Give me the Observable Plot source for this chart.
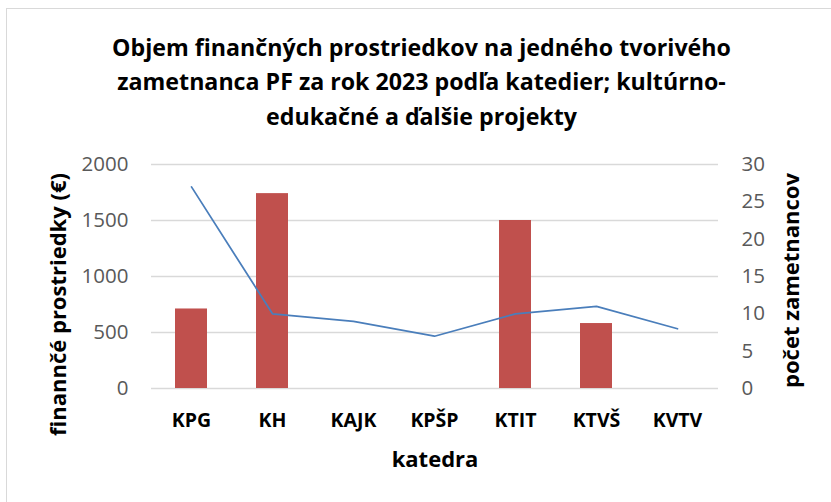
<!DOCTYPE html>
<html>
<head>
<meta charset="utf-8">
<script src="https://cdn.jsdelivr.net/npm/d3@7"></script>
<script src="https://cdn.jsdelivr.net/npm/@observablehq/plot@0.6"></script>
<style>
  html, body { margin: 0; padding: 0; background: #fff; }
  #wrap { position: relative; width: 831px; height: 502px; overflow: hidden; font-family: "Open Sans", Lato, sans-serif; }
  #border { position: absolute; left: 6px; top: 8px; width: 850px; height: 520px; border: 1.5px solid #d9d9d9; box-sizing: border-box; }
  #title { position: absolute; left: 6px; width: 831px; top: 29.5px; text-align: center; font-weight: bold; font-size: 23.2px; line-height: 34.5px; color: #000; }
  #chart { position: absolute; left: 0; top: 0; }
</style>
</head>
<body>
<div id="wrap">
  <div id="border"></div>
  <div id="chart"></div>
  <div id="title">Objem finančných prostriedkov na jedného tvorivého<br>zametnanca PF za rok 2023 podľa katedier; kultúrno-<br>edukačné a ďalšie projekty</div>
</div>
<script>
const categories = ["KPG", "KH", "KAJK", "KPŠP", "KTIT", "KTVŠ", "KVTV"];
const funds = [710, 1740, 0, 0, 1500, 580, 0];
const employees = [27, 10, 9, 7, 10, 11, 8];
const leftTicks = [0, 500, 1000, 1500, 2000];
const rightTicks = [0, 5, 10, 15, 20, 25, 30];
const leftLabel = "finannčé prostriedky (€)";
const rightLabel = "počet zametnancov";
const xLabel = "katedra";

const leftMax = 2000, rightMax = 30;
const k = leftMax / rightMax;

const barData = categories.map((c, i) => ({c, v: funds[i]})).filter(d => d.v > 0);
const lineData = categories.map((c, i) => ({c, v: employees[i] * k}));

const plot = Plot.plot({
  width: 831,
  height: 502,
  marginLeft: 151,
  marginRight: 113,
  marginTop: 164,
  marginBottom: 114,
  style: {fontFamily: "'Open Sans', Lato, sans-serif", background: "transparent"},
  x: {type: "band", domain: categories, paddingInner: 0.6, paddingOuter: 0.3},
  y: {domain: [0, leftMax]},
  marks: [
    Plot.gridY(leftTicks, {stroke: "#d9d9d9", strokeOpacity: 1, strokeWidth: 1.5}),
    Plot.barY(barData, {x: "c", y: "v", fill: "#c0504d"}),
    Plot.line(lineData, {x: "c", y: "v", stroke: "#4a7ebb", strokeWidth: 1.75}),
    Plot.axisY(leftTicks, {anchor: "left", tickSize: 0, tickPadding: 23, fontSize: 20.5, color: "#595959", tickFormat: d3.format("d"), label: null}),
    Plot.axisY(rightTicks.map(v => v * k), {anchor: "right", tickSize: 0, tickPadding: 23, fontSize: 20.5, color: "#595959", tickFormat: d => String(Math.round(d / k)), label: null}),
    Plot.axisX({tickSize: 0, tickPadding: 25, fontSize: 19.5, fontWeight: "bold", color: "#000", label: null}),
    Plot.text([leftLabel], {frameAnchor: "left", textAnchor: "middle", lineAnchor: "middle", dx: -93, dy: 28, rotate: -90, fontSize: 22, fontWeight: "bold", fill: "#000"}),
    Plot.text([rightLabel], {frameAnchor: "right", textAnchor: "middle", lineAnchor: "middle", dx: 73, dy: 4, rotate: -90, fontSize: 22, fontWeight: "bold", fill: "#000"}),
    Plot.text([xLabel], {frameAnchor: "bottom", textAnchor: "middle", lineAnchor: "middle", dy: 71, fontSize: 22, fontWeight: "bold", fill: "#000"})
  ]
});
document.getElementById("chart").appendChild(plot);
</script>
</body>
</html>
